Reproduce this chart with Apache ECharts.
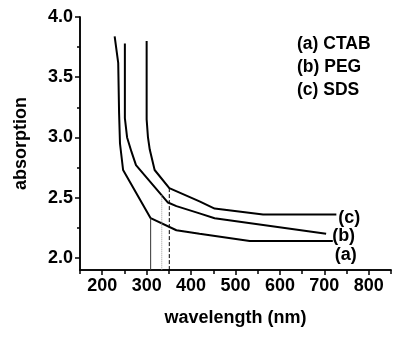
<!DOCTYPE html>
<html><head><meta charset="utf-8">
<script src="https://cdn.jsdelivr.net/npm/echarts@6/dist/echarts.min.js"></script>
<style>html,body{margin:0;padding:0;background:#fff}#c{width:400px;height:339px}</style>
</head><body><div id="c"></div>
<script>
// Data
var curveA = [[228,3.84],[236,3.62],[238,3.2],[240,2.95],[247,2.73],[309,2.33],[367,2.23],[419,2.20],[532,2.14],[719,2.14]];
var curveB = [[251,3.78],[251,3.16],[256,3.00],[266,2.88],[276,2.77],[348,2.46],[367,2.43],[419,2.37],[453,2.33],[704,2.20]];
var curveC = [[300,3.80],[300,3.15],[303,3.00],[307,2.90],[318,2.73],[351,2.58],[419,2.47],[453,2.41],[562,2.36],[727,2.36]];
var curveNames = ['(a)','(b)','(c)'];
var legendLines = ['(a) CTAB','(b) PEG','(c) SDS'];
var vSolid = [[309,2.33],[309,1.9]];
var vDotted = [[334,2.52],[334,1.9]];
var vDashed = [[351,2.58],[351,1.9]];
var xMajor = [200,300,400,500,600,700,800];
var xMinor = [150,250,350,450,550,650,750,850];
var yMajor = [2.0,2.5,3.0,3.5,4.0];
var yMinor = [2.25,2.75,3.25,3.75];
var xRange = [150,850];
var yRange = [1.9,4.0];

var FONT = 'Liberation Sans';
var FS = 18;
var chart = echarts.init(document.getElementById('c'));
var axLine = {show:true, lineStyle:{color:'#000', width:1.5}};
function xAx(ticks, len, labels){
  return {type:'value', min:xRange[0], max:xRange[1], position:'bottom',
    axisLine: axLine, splitLine:{show:false},
    axisTick:{show:true, inside:false, length:len, customValues:ticks, lineStyle:{color:'#000',width:1.5}},
    axisLabel:{show:labels, customValues:ticks, margin:7, color:'#000', fontFamily:FONT, fontWeight:'bold', fontSize:FS},
    name: labels ? 'wavelength (nm)' : '', nameLocation:'middle', nameGap:39,
    nameTextStyle:{color:'#000', fontFamily:FONT, fontWeight:'bold', fontSize:FS}};
}
function yAx(ticks, len, labels){
  return {type:'value', min:yRange[0], max:yRange[1], position:'left',
    axisLine: axLine, splitLine:{show:false},
    axisTick:{show:true, inside:false, length:len, customValues:ticks, lineStyle:{color:'#000',width:1.5}},
    axisLabel:{show:labels, customValues:ticks, margin:7, color:'#000', fontFamily:FONT, fontWeight:'bold', fontSize:FS,
      formatter:function(v){return v.toFixed(1);}},
    name: labels ? 'absorption' : '', nameLocation:'middle', nameGap:50,
    nameTextStyle:{color:'#000', fontFamily:FONT, fontWeight:'bold', fontSize:FS}};
}
function curve(data, name, off){
  return {type:'line', data:data, xAxisIndex:0, yAxisIndex:0, symbol:'none', smooth:false,
    lineStyle:{color:'#000', width:2}, silent:true,
    endLabel:{show:true, formatter:name, distance:0, offset:off, color:'#000', fontFamily:FONT, fontWeight:'bold', fontSize:FS}};
}
function vline(data, type, color){
  return {type:'line', data:data, symbol:'none', lineStyle:{color:color, width:1, type:type}, silent:true};
}
chart.setOption({
  animation:false,
  grid:{left:80, right:9, top:17, bottom:69, containLabel:false},
  xAxis:[xAx(xMajor,5,true), xAx(xMinor,4,false)],
  yAxis:[yAx(yMajor,5,true), yAx(yMinor,3,false)],
  series:[
    curve(curveA, curveNames[0], [2,14]),
    curve(curveB, curveNames[1], [6,2]),
    curve(curveC, curveNames[2], [2,3]),
    vline(vSolid,'solid','#333'),
    vline(vDotted,'dotted','#999'),
    vline(vDashed,'dashed','#000')
  ],
  graphic: legendLines.map(function(t,i){
    return {type:'text', left:297, top:35 + i*23, style:{text:t, fill:'#000', font:'bold 17.5px "'+FONT+'"'}};
  })
});
</script></body></html>
